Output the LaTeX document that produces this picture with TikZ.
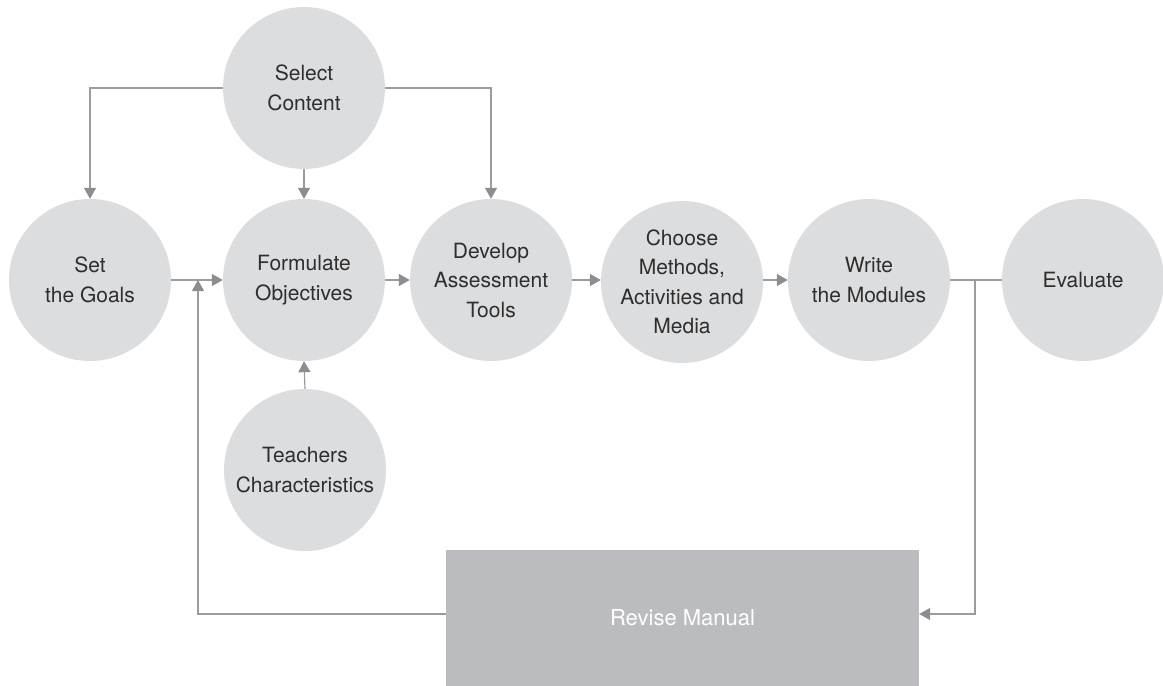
\documentclass[tikz,border=0pt]{standalone}
\usepackage{fontspec}
\setmainfont{TeX Gyre Heros}
\usepackage{tikz}
\usetikzlibrary{arrows.meta}

\definecolor{circgray}{HTML}{DCDDDF}
\definecolor{boxgray}{HTML}{BBBCBF}
\definecolor{linegray}{HTML}{9B9C9F}
\definecolor{tipgray}{HTML}{8C8D91}
\definecolor{textgray}{HTML}{2E2E2E}

\begin{document}
\begin{tikzpicture}[x=1pt,y=-1pt,
	stage/.style={circle, fill=circgray, minimum size=162pt, inner sep=0pt, align=center,
		text=textgray, font=\fontsize{21}{29.5}\selectfont},
	revbox/.style={rectangle, fill=boxgray, minimum width=473pt, minimum height=136pt,
		inner sep=0pt, text=white, font=\fontsize{22}{29}\selectfont},
	flow/.style={draw=linegray, line width=1.2pt, -{Triangle[width=12pt,length=11pt,color=tipgray]}},
	link/.style={draw=linegray, line width=1.2pt}]

\useasboundingbox (0,0) rectangle (1163,686);

\node[stage] (content) at (304,88) {Select\\Content};
\node[stage] (goals) at (90,280) {Set\\the Goals};
\node[stage] (objectives) at (304,280) {Formulate\\Objectives};
\node[stage] (assess) at (491,280) {Develop\\Assessment\\Tools};
\node[stage] (methods) at (682,282) {Choose\\Methods,\\Activities and\\Media};
\node[stage] (modules) at (869,280) {Write\\the Modules};
\node[stage] (evaluate) at (1083,280) {Evaluate};
\node[stage] (teachers) at (305,470) {Teachers\\Characteristics};
\node[revbox] (revise) at (682.5,618) {Revise Manual};

\coordinate (split) at (975,280);
\coordinate (back) at (198,280);

\draw[flow] (content.west) -| (goals.north);
\draw[flow] (content.east) -| (assess.north);
\draw[flow] (content.south) -- (objectives.north);

\draw[flow] (goals.east) -- (objectives.west);
\draw[flow] (objectives.east) -- (assess.west);
\draw[flow] (assess.east) -- (assess.east -| methods.west);
\draw[flow] (methods.east |- modules.west) -- (modules.west);
\draw[link] (modules.east) -- (evaluate.west);

\draw[flow] (teachers.north) -- (objectives.south);

\draw[flow] (split) |- ([yshift=4pt]revise.east);
\draw[flow] ([yshift=4pt]revise.west) -| (back);

\end{tikzpicture}
\end{document}
